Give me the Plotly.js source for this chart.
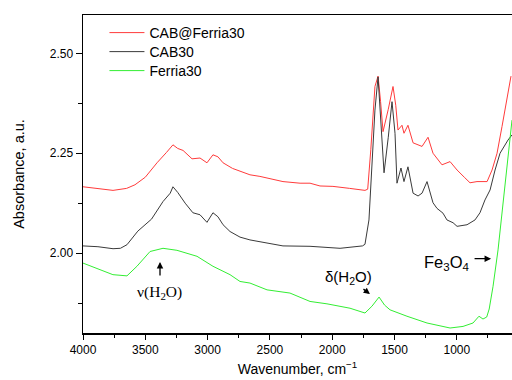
<!DOCTYPE html>
<html>
<head>
<meta charset="utf-8">
<script src="https://cdn.plot.ly/plotly-3.0.1.min.js"></script>
<style>html,body{margin:0;padding:0;overflow:hidden;background:#fff}#chart{width:512px;height:380px}</style>
</head>
<body>
<div id="chart"></div>
<script>
// Series names
const seriesNames = ["CAB@Ferria30", "CAB30", "Ferria30"];

// CAB@Ferria30 (red)
const redX = [4000, 3900, 3759, 3650, 3583, 3500, 3406, 3330, 3278, 3240, 3197, 3125, 3061, 3005, 2957, 2917, 2876, 2800, 2660, 2580, 2480, 2395, 2258, 2178, 2098, 1994, 1860, 1737, 1715, 1690, 1657, 1632, 1612, 1592, 1550, 1512, 1490, 1472, 1440, 1424, 1392, 1351, 1279, 1231, 1191, 1119, 1054, 998, 940, 894, 838, 757, 717, 677, 637, 597, 565];
const redY = [2.166, 2.163, 2.157, 2.162, 2.171, 2.19, 2.226, 2.252, 2.271, 2.262, 2.257, 2.236, 2.238, 2.226, 2.246, 2.241, 2.226, 2.212, 2.196, 2.192, 2.185, 2.179, 2.175, 2.175, 2.168, 2.167, 2.162, 2.157, 2.16, 2.26, 2.417, 2.443, 2.38, 2.304, 2.36, 2.417, 2.37, 2.308, 2.32, 2.30, 2.32, 2.276, 2.267, 2.29, 2.25, 2.221, 2.229, 2.208, 2.19, 2.176, 2.179, 2.179, 2.208, 2.25, 2.317, 2.39, 2.443];

// CAB30 (black)
const blackX = [4000, 3880, 3759, 3700, 3647, 3560, 3450, 3358, 3300, 3278, 3240, 3180, 3118, 3061, 3005, 2957, 2917, 2876, 2820, 2740, 2660, 2580, 2395, 2178, 1937, 1757, 1737, 1705, 1681, 1657, 1632, 1610, 1584, 1550, 1520, 1496, 1480, 1448, 1424, 1392, 1351, 1311, 1279, 1239, 1215, 1191, 1159, 1111, 1079, 1030, 998, 918, 854, 814, 774, 733, 693, 653, 589, 557];
const blackY = [2.018, 2.016, 2.011, 2.012, 2.021, 2.055, 2.085, 2.129, 2.15, 2.166, 2.152, 2.125, 2.101, 2.096, 2.077, 2.101, 2.091, 2.071, 2.054, 2.040, 2.033, 2.028, 2.018, 2.017, 2.012, 2.018, 2.022, 2.083, 2.233, 2.358, 2.441, 2.32, 2.201, 2.29, 2.379, 2.3, 2.175, 2.213, 2.179, 2.216, 2.15, 2.143, 2.15, 2.179, 2.15, 2.126, 2.112, 2.10, 2.083, 2.076, 2.067, 2.071, 2.083, 2.101, 2.133, 2.158, 2.208, 2.25, 2.283, 2.296];

// Ferria30 (green)
const greenX = [4000, 3864, 3760, 3647, 3567, 3462, 3358, 3246, 3085, 2957, 2820, 2740, 2660, 2523, 2339, 2178, 2042, 1857, 1737, 1681, 1624, 1580, 1536, 1400, 1239, 1054, 950, 870, 822, 790, 760, 740, 709, 669, 629, 589, 557];
const greenY = [1.975, 1.958, 1.946, 1.943, 1.967, 2.004, 2.012, 2.007, 1.992, 1.967, 1.946, 1.929, 1.925, 1.908, 1.90, 1.879, 1.873, 1.862, 1.85, 1.867, 1.89, 1.87, 1.858, 1.842, 1.825, 1.8125, 1.8165, 1.825, 1.842, 1.835, 1.84, 1.86, 1.917, 2.008, 2.126, 2.24, 2.333];

// Axis ticks
const yTickVals = [2.00, 2.25, 2.50];
const yTickText = ["2.00", "2.25", "2.50"];
const xTickVals = [4000, 3500, 3000, 2500, 2000, 1500, 1000];

const font = "Arial, 'Liberation Sans', sans-serif";

const traces = [
  {x: redX, y: redY, name: seriesNames[0], mode: "lines", line: {color: "#ff3b3b", width: 1}, legend: "legend"},
  {x: blackX, y: blackY, name: seriesNames[1], mode: "lines", line: {color: "#3a3a3a", width: 1}, legend: "legend2"},
  {x: greenX, y: greenY, name: seriesNames[2], mode: "lines", line: {color: "#33ee33", width: 1}, legend: "legend3"}
];

function leg(y) {
  return {x: 0.05, y: y, xanchor: "left", yanchor: "middle", bgcolor: "rgba(0,0,0,0)",
          font: {size: 14, family: font}, itemwidth: 35, borderwidth: 0};
}

const layout = {
  width: 512, height: 380,
  margin: {l: 83, r: 0, t: 15, b: 47},
  paper_bgcolor: "#fff", plot_bgcolor: "#fff",
  font: {family: font, size: 12, color: "#000"},
  showlegend: true,
  legend: leg(0.9434),
  legend2: leg(0.8836),
  legend3: leg(0.8239),
  xaxis: {
    range: [4000, 557], showgrid: false, zeroline: false,
    showline: true, linecolor: "#000", linewidth: 1.5, mirror: true,
    tickvals: xTickVals, ticks: "outside", ticklen: 5, tickwidth: 1, tickcolor: "#000",
    tickfont: {size: 12, family: font},
    minor: {dtick: 250, ticks: "outside", ticklen: 3, tickcolor: "#000", showgrid: false},
    title: {text: "Wavenumber, cm<sup>\u22121</sup>", font: {size: 14, family: font}, standoff: 8}
  },
  yaxis: {
    range: [1.8, 2.596], showgrid: false, zeroline: false,
    showline: true, linecolor: "#000", linewidth: 1.5, mirror: false,
    tickvals: yTickVals, ticktext: yTickText, ticks: "outside", ticklen: 6, tickwidth: 1, tickcolor: "#000",
    tickfont: {size: 12, family: font},
    minor: {tickvals: [1.875, 2.125, 2.375], ticks: "outside", ticklen: 4, tickcolor: "#000", showgrid: false},
    title: {text: "Absorbance, a.u.", font: {size: 14.5, family: font}, standoff: 21}
  },
  annotations: [
    {x: 3382, y: 1.978, ax: 0, ay: 15, text: "", showarrow: true, arrowhead: 2, arrowsize: 1, arrowwidth: 1.3, arrowcolor: "#000"},
    {x: 3390, y: 1.901, text: "\u03bd(H<sub>2</sub>O)", showarrow: false, font: {size: 15.5, family: "'Liberation Serif', 'Times New Roman', serif"}},
    {x: 1697, y: 1.8975, ax: -8, ay: -6, text: "", showarrow: true, arrowhead: 2, arrowsize: 0.9, arrowwidth: 1.4, arrowcolor: "#000"},
    {x: 1873, y: 1.938, text: "\u03b4(H<sub>2</sub>O)", showarrow: false, font: {size: 15, family: font}},
    {x: 725, y: 1.986, ax: -18, ay: 0, text: "", showarrow: true, arrowhead: 2, arrowsize: 1, arrowwidth: 1.3, arrowcolor: "#000"},
    {x: 1079, y: 1.975, text: "Fe<sub>3</sub>O<sub>4</sub>", showarrow: false, font: {size: 16.5, family: font}}
  ]
};

Plotly.newPlot("chart", traces, layout, {displayModeBar: false, staticPlot: true});
</script>
</body>
</html>
